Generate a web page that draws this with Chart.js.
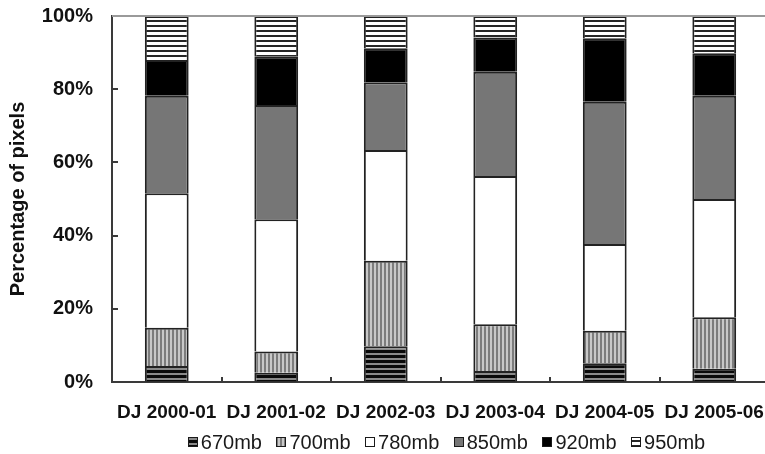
<!DOCTYPE html>
<html>
<head>
<meta charset="utf-8">
<script src="https://cdn.jsdelivr.net/npm/chart.js@4/dist/chart.umd.min.js"></script>
<style>
  html, body { margin: 0; padding: 0; background: #fff; overflow: hidden; }
  #wrap { width: 770px; height: 454px; }
</style>
</head>
<body>
<div id="wrap"><canvas id="c" width="770" height="454"></canvas></div>
<script>
// Winter (Dec-Jan) seasons
const winters = ['DJ 2000-01', 'DJ 2001-02', 'DJ 2002-03', 'DJ 2003-04', 'DJ 2004-05', 'DJ 2005-06'];
// Pressure levels, bottom to top of each stack
const levels = ['670mb', '700mb', '780mb', '850mb', '920mb', '950mb'];
// Share of pixels (%) per level and winter
const pct670 = [4.4, 2.5, 9.8, 3.0, 5.1, 3.6];
const pct700 = [10.4, 5.8, 23.3, 12.8, 8.9, 14.1];
const pct780 = [36.8, 36.2, 30.3, 40.5, 23.7, 32.3];
const pct850 = [26.6, 31.2, 18.5, 28.5, 38.9, 28.2];
const pct920 = [9.8, 13.2, 9.3, 9.3, 17.3, 11.6];
const pct950 = [12.0, 11.1, 8.8, 5.9, 6.1, 10.2];
// Y axis tick values
const yTickValues = [0, 20, 40, 60, 80, 100];

const FONT = "'Liberation Sans', Arial, sans-serif";

// Monochrome hatch fills
function makePattern(w, h, paint) {
  const cv = document.createElement('canvas');
  cv.width = w; cv.height = h;
  const g = cv.getContext('2d');
  paint(g, w, h);
  return g.createPattern(cv, 'repeat');
}
const ctx = document.getElementById('c').getContext('2d');
const fillH670 = makePattern(5, 5, (g, w, h) => {
  g.fillStyle = '#8a8a8a'; g.fillRect(0, 0, w, h);
  g.fillStyle = '#0a0a0a'; g.fillRect(0, 0, w, 3);
});
const fillV700 = makePattern(4, 4, (g, w, h) => {
  g.fillStyle = '#c8c8c8'; g.fillRect(0, 0, w, h);
  g.fillStyle = '#7c7c7c'; g.fillRect(0, 0, 2, h);
});
const fillH950 = makePattern(5, 5, (g, w, h) => {
  g.fillStyle = '#ffffff'; g.fillRect(0, 0, w, h);
  g.fillStyle = '#262626'; g.fillRect(0, 0, w, 2);
});

const series = [pct670, pct700, pct780, pct850, pct920, pct950];
const fills = [fillH670, fillV700, '#ffffff', '#767676', '#000000', fillH950];

const datasets = levels.map((name, i) => ({
  label: name,
  data: series[i],
  backgroundColor: fills[i],
  borderColor: '#222222',
  borderWidth: 2,
  barPercentage: 0.4,
  categoryPercentage: 1.0
}));

// Frame line across the top and inward tick marks on both axes
const axisMarks = {
  id: 'axisMarks',
  afterDatasetsDraw(chart) {
    const { ctx, chartArea: a, scales: { x, y } } = chart;
    ctx.save();
    ctx.strokeStyle = '#9a9a9a';
    ctx.lineWidth = 2;
    ctx.beginPath();
    ctx.moveTo(a.left, a.top);
    ctx.lineTo(a.right, a.top);
    ctx.stroke();

    ctx.strokeStyle = '#3a3a3a';
    ctx.lineWidth = 2;
    ctx.beginPath();
    yTickValues.forEach(v => {
      if (v === 0 || v === 100) return;
      const py = Math.round(y.getPixelForValue(v));
      ctx.moveTo(a.left, py);
      ctx.lineTo(a.left + 6, py);
    });
    for (let i = 0; i < winters.length - 1; i++) {
      const px = Math.round((x.getPixelForValue(i) + x.getPixelForValue(i + 1)) / 2);
      ctx.moveTo(px, a.bottom);
      ctx.lineTo(px, a.bottom - 5);
    }
    ctx.stroke();
    ctx.restore();
  }
};

// Single-row legend under the category labels
const levelLegend = {
  id: 'levelLegend',
  afterDraw(chart) {
    const { ctx, chartArea: a } = chart;
    const box = 10, textGap = 3, itemGap = 14.5;
    ctx.save();
    ctx.font = '20px ' + FONT;
    ctx.textBaseline = 'middle';
    ctx.textAlign = 'left';
    const items = chart.data.datasets.map(ds => ({
      ds, w: box + textGap + ctx.measureText(ds.label).width
    }));
    const total = items.reduce((s, it) => s + it.w, 0) + itemGap * (items.length - 1);
    let cx = (a.left + a.right) / 2 + 6 - total / 2;
    const cy = chart.height - 12;
    items.forEach(it => {
      const bx = Math.round(cx), by = Math.round(cy - box / 2);
      ctx.fillStyle = it.ds.backgroundColor;
      ctx.fillRect(bx, by, box, box);
      ctx.strokeStyle = '#1a1a1a';
      ctx.lineWidth = 1;
      ctx.strokeRect(bx + 0.5, by + 0.5, box - 1, box - 1);
      ctx.fillStyle = '#1a1a1a';
      ctx.fillText(it.ds.label, cx + box + textGap, cy + 1);
      cx += it.w + itemGap;
    });
    ctx.restore();
  }
};

new Chart(ctx, {
  type: 'bar',
  data: { labels: winters, datasets },
  plugins: [axisMarks, levelLegend],
  options: {
    responsive: false,
    animation: false,
    layout: { padding: { top: 16, right: 1, left: 0, bottom: 0 } },
    plugins: {
      tooltip: { enabled: false },
      legend: { display: false }
    },
    scales: {
      x: {
        stacked: true,
        afterFit(scale) {
          scale.height = 72;
          scale.paddingLeft = 0;
          scale.paddingRight = 0;
        },
        grid: { display: true, color: 'rgba(0,0,0,0)', drawOnChartArea: false, drawTicks: false },
        border: { display: true, color: '#3a3a3a', width: 2 },
        ticks: {
          color: '#111',
          padding: 19,
          maxRotation: 0,
          autoSkip: false,
          font: { family: FONT, size: 19, weight: 'bold' }
        }
      },
      y: {
        stacked: true,
        min: 0,
        max: 100,
        afterFit(scale) {
          scale.width = 112;
          scale.paddingTop = 0;
          scale.paddingBottom = 0;
        },
        afterBuildTicks(scale) { scale.ticks = yTickValues.map(v => ({ value: v })); },
        grid: { display: true, color: 'rgba(0,0,0,0)', drawOnChartArea: false, drawTicks: false },
        border: { display: true, color: '#3a3a3a', width: 2 },
        ticks: {
          color: '#111',
          padding: 19,
          callback: v => v + '%',
          font: { family: FONT, size: 20, weight: 'bold' }
        },
        title: {
          display: true,
          text: 'Percentage of pixels',
          color: '#111',
          padding: { top: 6, bottom: 0 },
          font: { family: FONT, size: 20, weight: 'bold' }
        }
      }
    }
  }
});
</script>
</body>
</html>
